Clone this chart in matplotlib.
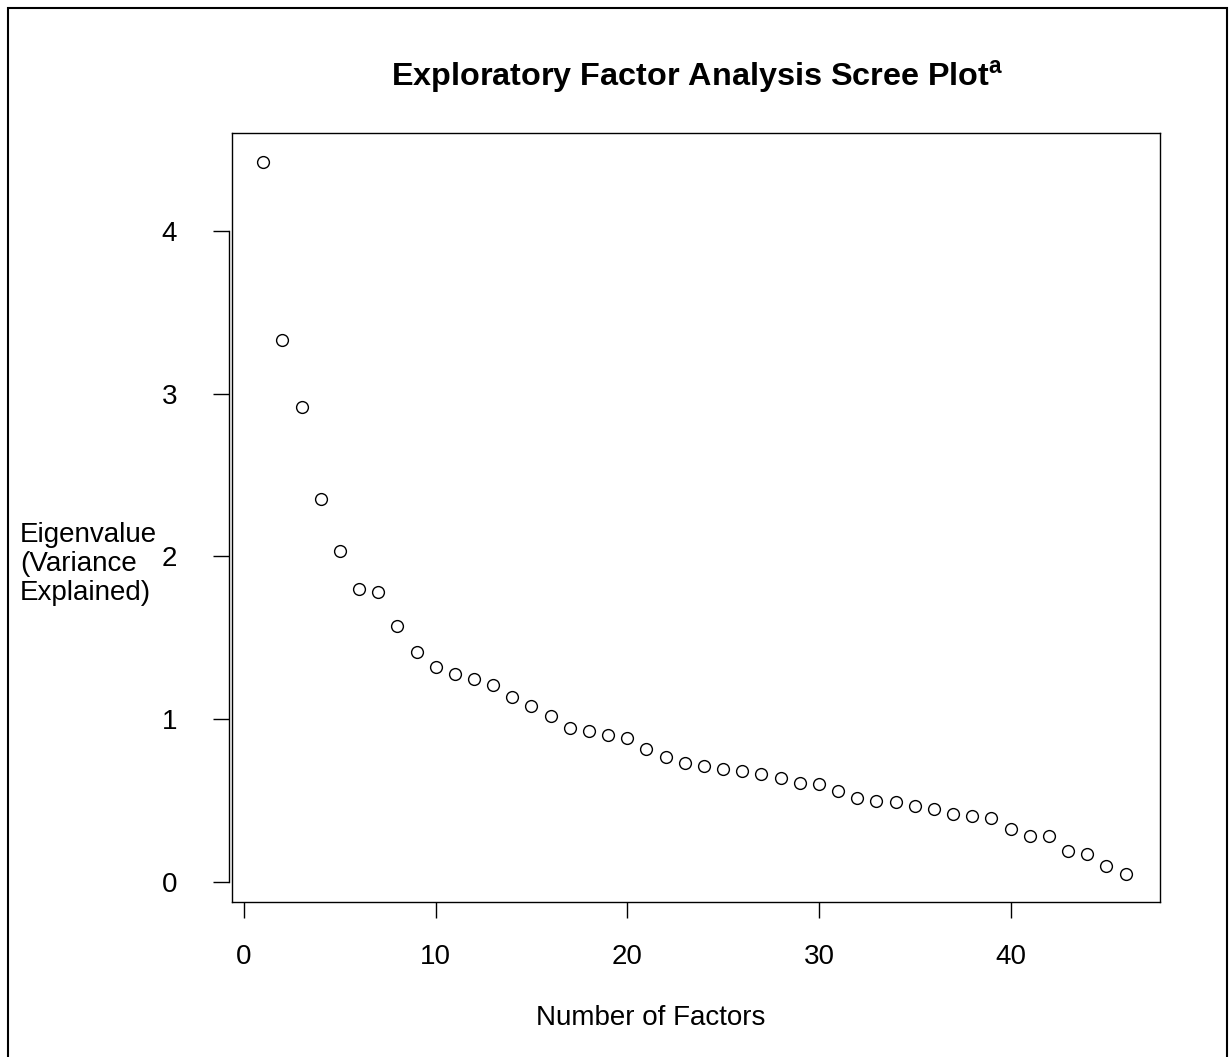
import matplotlib
matplotlib.use("Agg")
import matplotlib.pyplot as plt
from matplotlib.patches import Rectangle
from matplotlib.lines import Line2D

plt.rcParams['font.family'] = ['Liberation Sans', 'DejaVu Sans']
plt.rcParams['mathtext.fontset'] = 'custom'
plt.rcParams['mathtext.bf'] = 'Liberation Sans:bold'
plt.rcParams['mathtext.rm'] = 'Liberation Sans'

# eigenvalues
factors = list(range(1, 47))
eigenvalues = [4.42, 3.33, 2.92, 2.35, 2.03, 1.80, 1.78, 1.57, 1.41, 1.32,
               1.28, 1.245, 1.21, 1.135, 1.08, 1.02, 0.945, 0.93, 0.90, 0.887,
               0.815, 0.765, 0.733, 0.713, 0.692, 0.682, 0.662, 0.641, 0.61, 0.60,
               0.561, 0.518, 0.50, 0.49, 0.469, 0.449, 0.418, 0.406, 0.395, 0.324,
               0.283, 0.283, 0.192, 0.172, 0.10, 0.049]
xticks = [0, 10, 20, 30, 40]
yticks = [0, 1, 2, 3, 4]

W, H = 1230, 1057
fig = plt.figure(figsize=(W / 100, H / 100), dpi=100)
ax = fig.add_axes([232 / W, 1 - 902 / H, (1160 - 232) / W, (902 - 133) / H])

ax.plot(factors, eigenvalues, 'o', mfc='none', mec='black', ms=8.5, mew=1.0)
ax.set_xlim(-0.63, 47.8)
ax.set_ylim(-0.123, 4.60)

for s in ax.spines.values():
    s.set_linewidth(1.0)
    s.set_color('black')
# y axis line sits just left of the box, only from 0 to 4
ax.spines['left'].set_position(('outward', 2))
ax.spines['left'].set_bounds(0, 4)
ax.add_line(Line2D([0, 0], [0, 1], transform=ax.transAxes, color='black',
                   lw=1.0, clip_on=False))

ax.set_xticks(xticks)
ax.set_yticks(yticks)
ax.tick_params(axis='both', direction='out', length=11.5, width=1.0,
               labelsize=20, colors='black')
ax.tick_params(axis='x', pad=19)
ax.tick_params(axis='y', pad=26)

fig.text(697 / W, 1 - 77 / H, r'Exploratory Factor Analysis Scree Plot$^{\mathbf{a}}$',
         ha='center', va='center', fontsize=23.3, fontweight='bold')
fig.text(20 / W, 1 - 564 / H, 'Eigenvalue\n(Variance\nExplained)',
         ha='left', va='center', fontsize=20, linespacing=1.15)
fig.text(651 / W, 1 - 1018 / H, 'Number of Factors',
         ha='center', va='center', fontsize=20)

fig.add_artist(Rectangle((8 / W, -0.1), (1227 - 8) / W, 1 - 8 / H + 0.1,
                         transform=fig.transFigure, fill=False,
                         lw=1.5, ec='black'))

fig.savefig('out.png', dpi=100)
